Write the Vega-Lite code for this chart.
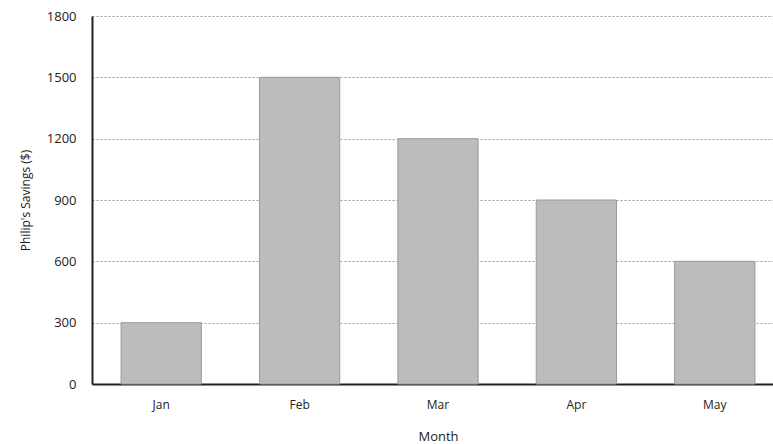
{
  "$schema": "https://vega.github.io/schema/vega-lite/v6.json",
  "autosize": {"type": "none"},
  "padding": {"left": 92, "top": 16, "right": 0, "bottom": 60},
  "width": 692,
  "height": 368,
  "background": "white",
  "data": {"values": [
    {"month": "Jan", "savings": 300},
    {"month": "Feb", "savings": 1500},
    {"month": "Mar", "savings": 1200},
    {"month": "Apr", "savings": 900},
    {"month": "May", "savings": 600}
  ]},
  "config": {
    "view": {"stroke": null},
    "font": "Open Sans"
  },
  "mark": {"type": "bar", "color": "#bcbcbc", "stroke": "#9a9a9a", "strokeWidth": 1},
  "encoding": {
    "x": {
      "field": "month", "type": "nominal", "sort": null,
      "scale": {"paddingInner": 0.42, "paddingOuter": 0.21},
      "axis": {
        "title": "Month", "titleFontSize": 13, "titleFontWeight": "normal", "titleColor": "#222", "titlePadding": 20,
        "labelAngle": 0, "labelFontSize": 12, "labelColor": "#222", "labelPadding": 15,
        "ticks": false, "domainColor": "#222", "domainWidth": 2, "grid": false
      }
    },
    "y": {
      "field": "savings", "type": "quantitative",
      "scale": {"domain": [0, 1800]},
      "axis": {
        "title": "Philip's Savings ($)", "titleFontSize": 12, "titleFontWeight": "normal", "titleColor": "#222", "titlePadding": 14,
        "values": [0, 300, 600, 900, 1200, 1500, 1800], "format": "d",
        "labelFontSize": 13, "labelColor": "#222", "labelPadding": 16,
        "ticks": false, "domainColor": "#222", "domainWidth": 2,
        "grid": true, "gridColor": "#9a9a9a", "gridDash": [2, 2], "gridWidth": 1
      }
    }
  }
}
